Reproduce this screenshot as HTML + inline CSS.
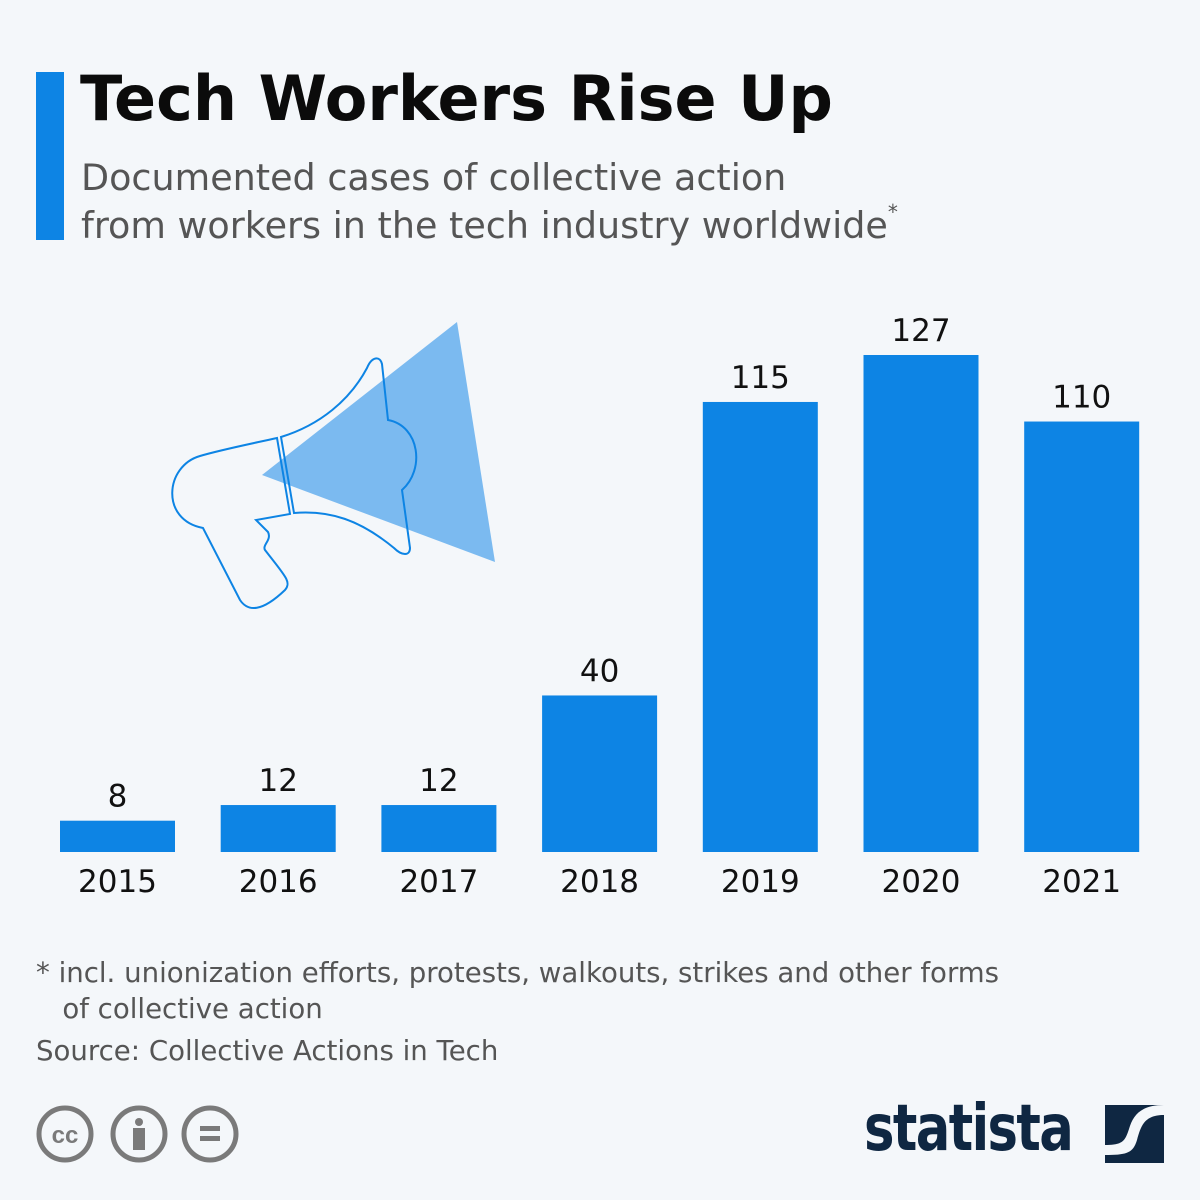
<!DOCTYPE html>
<html><head><meta charset="utf-8"><style>
body{margin:0;background:#f4f7fa;font-family:"DejaVu Sans","Liberation Sans",sans-serif;}
#wrap{position:relative;width:1200px;height:1200px;background:#f4f7fa;overflow:hidden}
.t{position:absolute;white-space:nowrap}
</style></head><body>
<div id="wrap">
<div class="t" style="left:36px;top:72px;width:28px;height:168px;background:#0d84e4"></div>
<div class="t" style="left:80px;top:62px;font-size:62px;font-weight:bold;color:#0b0b0b">Tech Workers Rise Up</div>
<div class="t" style="left:81px;top:154px;font-size:36.5px;line-height:48px;color:#555">Documented cases of collective action<br>from workers in the tech industry worldwide<span style="font-size:20px;vertical-align:top;line-height:0;position:relative;top:10px">*</span></div>
<svg id="chart" width="1200" height="1200" style="position:absolute;left:0;top:0">
<g>
<polygon points="457,322 495,562 262,475" fill="#7bbaf0"/>
<path d="M277,438 C250,444 220,450 200,456 C165,466 160,520 203,528 L240,600 C248,612 262,612 285,590 C292,582 285,576 265,550 C262,545 272,540 268,532 L256,520 L290,514 Z" fill="none" stroke="#0d84e4" stroke-width="2"/>
<path d="M281,437 C320,425 350,400 367,368 C372,356 380,356 382,364 L388,420 C420,426 425,470 402,490 L410,548 C410,556 402,556 394,548 C360,520 330,510 294,513 Z" fill="none" stroke="#0d84e4" stroke-width="2"/>
</g>
</svg>
<div class="t" style="left:36px;top:955px;font-size:27.6px;line-height:36px;color:#555">* incl. unionization efforts, protests, walkouts, strikes and other forms<br>&nbsp;&nbsp;&nbsp;of collective action</div>
<div class="t" style="left:36px;top:1034px;font-size:27.6px;color:#555">Source: Collective Actions in Tech</div>
<svg style="position:absolute;left:36px;top:1105px" width="210" height="60">
<g fill="none" stroke="#7a7a7a" stroke-width="5">
<circle cx="29" cy="29" r="26"/><circle cx="103" cy="29" r="26"/><circle cx="174" cy="29" r="26"/></g>
<text x="29" y="38" text-anchor="middle" font-size="24" font-weight="bold" fill="#7a7a7a" font-family="Liberation Sans">cc</text>
<circle cx="103" cy="17" r="4" fill="#7a7a7a"/><rect x="97" y="23" width="12" height="22" fill="#7a7a7a"/>
<rect x="164" y="21" width="20" height="5" fill="#7a7a7a"/><rect x="164" y="31" width="20" height="5" fill="#7a7a7a"/>
</svg>
<div class="t" style="left:864px;top:1092px;font-size:64px;font-weight:bold;color:#0f2742;letter-spacing:-2px;transform:scaleX(0.8);transform-origin:left">statista</div>
<svg style="position:absolute;left:1105px;top:1105px" width="60" height="60">
<rect width="59" height="58" fill="#0f2742"/>
<path d="M59,10 C40,10 36,20 32,35 C28,48 22,50 0,50 L0,40 C18,40 20,36 24,24 C28,10 36,0 59,0Z" fill="#f4f7fa"/>
</svg>
</div>
<script>
const categories=["2015","2016","2017","2018","2019","2020","2021"];
const values=[8,12,12,40,115,127,110];
const valueLabels=["8","12","12","40","115","127","110"];
const svg=document.getElementById('chart');
const NS='http://www.w3.org/2000/svg';
const base=852, pxPer=497/127, x0=60, step=160.7, bw=115;
function xs(i){return x0+i*step;}
function ys(v){return base-v*pxPer;}
categories.forEach((c,i)=>{
  const r=document.createElementNS(NS,'rect');
  r.setAttribute('x',xs(i));r.setAttribute('y',ys(values[i]));
  r.setAttribute('width',bw);r.setAttribute('height',base-ys(values[i]));
  r.setAttribute('fill','#0d84e4');
  
  
  svg.appendChild(r);
  const t=document.createElementNS(NS,'text');
  t.setAttribute('x',xs(i)+bw/2);t.setAttribute('y',ys(values[i])-14);
  t.setAttribute('text-anchor','middle');t.setAttribute('font-size','31');t.setAttribute('fill','#111');
  t.setAttribute('font-family','DejaVu Sans, Liberation Sans, sans-serif');
  t.textContent=valueLabels[i];
  
  
  svg.appendChild(t);
  const l=document.createElementNS(NS,'text');
  l.setAttribute('x',xs(i)+bw/2);l.setAttribute('y',892);
  l.setAttribute('text-anchor','middle');l.setAttribute('font-size','31');l.setAttribute('fill','#111');
  l.setAttribute('font-family','DejaVu Sans, Liberation Sans, sans-serif');
  l.textContent=c;
  
  
  svg.appendChild(l);
});
</script>
</body></html>
